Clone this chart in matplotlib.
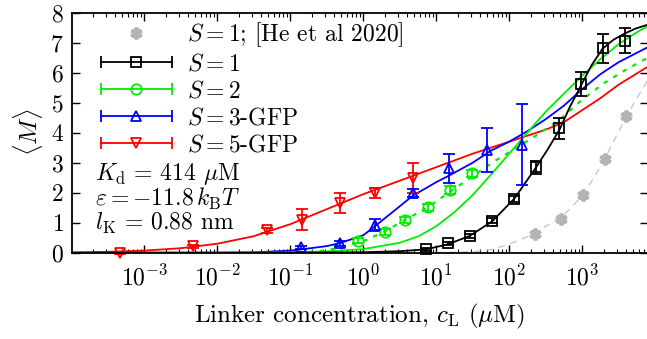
import numpy as np
import matplotlib
matplotlib.use("Agg")
import matplotlib.pyplot as plt
from matplotlib.lines import Line2D
from matplotlib.legend_handler import HandlerLine2D, HandlerTuple

plt.rcParams['font.family'] = 'serif'
plt.rcParams['font.serif'] = ['cmr10']
plt.rcParams['mathtext.fontset'] = 'cm'
plt.rcParams['axes.unicode_minus'] = False
plt.rcParams['axes.formatter.use_mathtext'] = True

# measured points
he_x = [228, 515, 1020, 2040, 4050]
he_m = [0.63, 1.11, 1.92, 3.11, 4.56]

s1_x = [7.3, 14.6, 29, 59, 117, 233, 489, 951, 1930, 3840]
s1_m = [0.11, 0.31, 0.57, 1.07, 1.78, 2.85, 4.15, 5.62, 6.81, 7.07]
s1_err = [0.05, 0.06, 0.07, 0.08, 0.1, 0.22, 0.35, 0.4, 0.47, 0.42]

s2_x = [0.85, 1.96, 3.7, 7.7, 15.7, 31]
s2_m = [0.4, 0.68, 1.09, 1.51, 2.09, 2.65]
s2_err = [0.08, 0.1, 0.1, 0.12, 0.12, 0.12]

s3_x = [0.14, 0.48, 1.46, 4.8, 14.9, 50, 152]
s3_m = [0.18, 0.31, 0.92, 2.0, 2.81, 3.42, 3.6]
s3_err = [0.05, 0.07, 0.2, 0.14, 0.47, 0.74, 1.35]

s5_x = [4.6e-4, 4.7e-3, 0.048, 0.146, 0.48, 1.46, 4.8]
s5_m = [0.0, 0.22, 0.75, 1.1, 1.65, 2.0, 2.5]
s5_err = [0.03, 0.05, 0.08, 0.35, 0.33, 0.17, 0.5]

# model curves (log10 of concentration, <M>)
he_fit_lx = [1.0, 1.5, 1.75, 2.0, 2.2, 2.36, 2.5, 2.71, 2.85, 3.0, 3.15, 3.3, 3.45, 3.6, 3.75, 3.9]
he_fit_m = [0.0, 0.03, 0.1, 0.28, 0.48, 0.66, 0.88, 1.18, 1.5, 1.9, 2.45, 3.08, 3.8, 4.5, 5.15, 5.75]

s1_fit_lx = [-4, -2, -1, 0, 0.5, 0.86, 1.16, 1.46, 1.77, 2.07, 2.37, 2.53, 2.69, 2.83, 2.98, 3.13, 3.28, 3.43, 3.58, 3.73, 3.9]
s1_fit_m = [0, 0, 0.002, 0.015, 0.05, 0.11, 0.28, 0.56, 1.05, 1.8, 2.85, 3.45, 4.1, 4.85, 5.55, 6.25, 6.8, 7.1, 7.3, 7.47, 7.6]

s2_fit_lx = [-4, -2, -1, -0.5, 0, 0.5, 0.76, 1.0, 1.25, 1.5, 1.75, 2.0, 2.25, 2.5, 2.75, 3.0, 3.25, 3.5, 3.75, 3.9]
s2_fit_m = [0, 0, 0.01, 0.04, 0.12, 0.33, 0.55, 0.88, 1.35, 1.92, 2.6, 3.3, 4.0, 4.7, 5.3, 5.9, 6.45, 6.95, 7.35, 7.55]

s2_dot_lx = [-0.9, -0.6, -0.3, 0.0, 0.29, 0.57, 0.89, 1.2, 1.5, 1.8, 2.1, 2.4, 2.7, 3.0, 3.3, 3.6, 3.9]
s2_dot_m = [0.0, 0.05, 0.17, 0.38, 0.7, 1.09, 1.52, 2.05, 2.55, 3.05, 3.5, 3.95, 4.45, 5.1, 5.65, 6.1, 6.5]

s3_fit_lx = [-4, -2, -1.5, -1, -0.85, -0.5, -0.32, 0.0, 0.16, 0.4, 0.68, 1.0, 1.2, 1.5, 1.75, 2.0, 2.25, 2.5, 2.75, 3.0, 3.25, 3.5, 3.9]
s3_fit_m = [0, 0.0, 0.01, 0.07, 0.11, 0.22, 0.32, 0.58, 0.88, 1.35, 1.9, 2.35, 2.6, 3.0, 3.4, 3.7, 4.05, 4.45, 4.9, 5.45, 5.95, 6.35, 6.85]

s5_fit_lx = [-4, -3.5, -3, -2.5, -2, -1.5, -1, -0.5, 0, 0.5, 1, 1.5, 2, 2.5, 2.75, 3, 3.25, 3.5, 3.9]
s5_fit_m = [0.0, 0.03, 0.07, 0.15, 0.3, 0.55, 0.95, 1.45, 1.95, 2.4, 2.85, 3.3, 3.7, 4.1, 4.35, 4.75, 5.15, 5.6, 6.2]

GREEN = '#00ee00'
BLUE = '#0000ff'
RED = '#ff0000'
FS = 17

fig = plt.figure(figsize=(6.47, 3.39), dpi=100)
ax = fig.add_axes([72 / 647, 86.3 / 339, 576 / 647, 240 / 339])

lw = 1.3
ax.plot(10 ** np.array(he_fit_lx), he_fit_m, '--', color='#c8c8c8', lw=1.0, dashes=(5, 4))
ax.plot(10 ** np.array(s5_fit_lx), s5_fit_m, '-', color=RED, lw=lw)
ax.plot(10 ** np.array(s3_fit_lx), s3_fit_m, '-', color=BLUE, lw=lw)
ax.plot(10 ** np.array(s2_fit_lx), s2_fit_m, '-', color=GREEN, lw=lw)
ax.plot(10 ** np.array(s2_dot_lx), s2_dot_m, ':', color=GREEN, lw=1.6, dashes=(2, 3))
ax.plot(10 ** np.array(s1_fit_lx), s1_fit_m, '-', color='black', lw=lw)

ax.plot(he_x, he_m, ls='none', marker=(6, 2, 0), ms=8.5, mew=2.8, color='#b4b4b4')

eb = dict(ls='none', capsize=4, elinewidth=1.3, capthick=1.3, mfc='none', mew=1.3, ms=7.5, clip_on=False)
ax.errorbar(s1_x, s1_m, yerr=s1_err, marker='s', color='black', **eb)
ax.errorbar(s2_x, s2_m, yerr=s2_err, marker='o', color=GREEN, **eb)
ax.errorbar(s3_x, s3_m, yerr=s3_err, marker='^', color=BLUE, **eb)
ax.errorbar(s5_x, s5_m, yerr=s5_err, marker='v', color=RED, **eb)

ax.set_xscale('log')
ax.set_xlim(1.02e-4, 8e3)
ax.set_ylim(0, 8)
ax.set_xticks([1e-3, 1e-2, 1e-1, 1e0, 1e1, 1e2, 1e3])
ax.xaxis.set_minor_locator(matplotlib.ticker.LogLocator(base=10, subs=np.arange(2, 10), numticks=20))
ax.xaxis.set_minor_formatter(matplotlib.ticker.NullFormatter())
ax.set_yticks(range(0, 9))
ax.tick_params(which='both', direction='in', top=True, right=True, labelsize=FS)
ax.tick_params(which='major', length=6, width=1)
ax.tick_params(which='minor', length=3, width=0.8)
ax.tick_params(axis='x', pad=9)
ax.tick_params(axis='y', pad=6)
for s in ax.spines.values():
    s.set_linewidth(1.3)

ax.set_xlabel(r'Linker concentration, $c_\mathrm{L}$ ($\mu$M)', fontsize=18, labelpad=8)
ax.set_ylabel(r'$\langle M\rangle$', fontsize=18, labelpad=4)

# parameter box as one multi-line text
params = '\n'.join([r'$K_\mathrm{d}$ = 414 $\mu$M',
                    r'$\varepsilon = -11.8\,k_\mathrm{B}T$',
                    r'$l_\mathrm{K}$ = 0.88 nm'])
ax.text(0.04, 0.225, params, transform=ax.transAxes, fontsize=FS, va='center',
        linespacing=0.95)

# legend handles: horizontal bar with caps + marker in the middle
handles = []
hmap = {}
star = Line2D([], [], ls='none', marker=(6, 2, 0), ms=8.5, mew=2.8, color='#b4b4b4')
handles.append(star)
for col, mk in [('black', 's'), (GREEN, 'o'), (BLUE, '^'), (RED, 'v')]:
    bar = Line2D([], [], color=col, lw=1.3, marker='|', ms=8, mew=1.3)
    mark = Line2D([], [], ls='none', color=col, marker=mk, mfc='none', ms=7.5, mew=1.3)
    hmap[bar] = HandlerLine2D(numpoints=2, marker_pad=0)
    hmap[mark] = HandlerLine2D(numpoints=1)
    handles.append((bar, mark))
hmap[tuple] = HandlerTuple(ndivide=1, pad=0)
labels = [r'$S=1$; [He et al 2020]', r'$S=1$', r'$S=2$', r'$S=3$-GFP', r'$S=5$-GFP']
ax.legend(handles, labels, handler_map=hmap, loc='upper left', bbox_to_anchor=(0.05, 0.97),
          frameon=False, fontsize=FS, handlelength=3.0, handletextpad=0.65, labelspacing=0.2,
          borderpad=0, borderaxespad=0)

fig.savefig('out.png', dpi=100)
